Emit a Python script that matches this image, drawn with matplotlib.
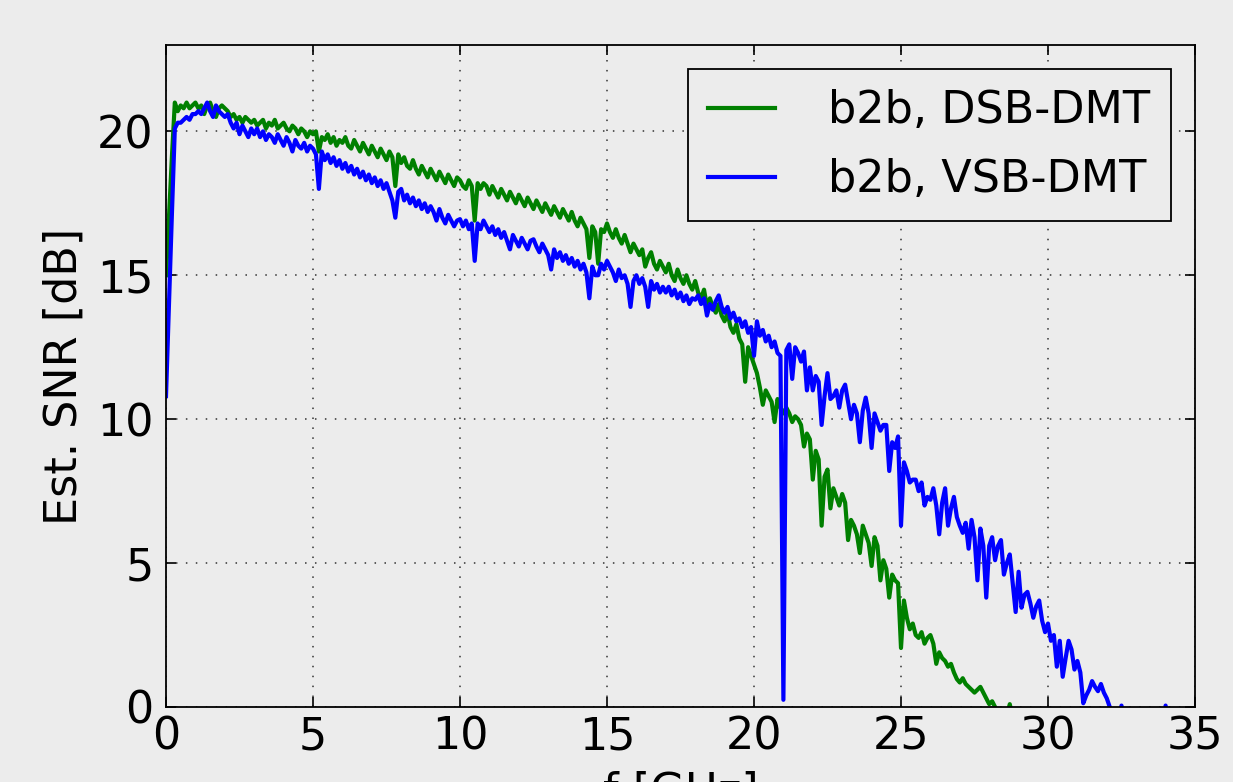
#!/usr/bin/env python3

import numpy as np
import matplotlib
matplotlib.use('Agg')
import matplotlib.pyplot as plt


# estimated SNR per subcarrier, 0.1 GHz apart (one row per GHz)
f_step = 0.1

snr_dsb = [
    15.0, 17.0, 19.1, 21.0, 20.7, 20.9, 20.8, 21.0, 20.8, 20.9,   # 0
    21.0, 20.8, 20.9, 20.6, 20.9, 21.0, 20.7, 20.5, 20.8, 20.9,   # 1
    20.8, 20.7, 20.5, 20.6, 20.4, 20.5, 20.3, 20.5, 20.4, 20.3,   # 2
    20.4, 20.2, 20.3, 20.4, 20.1, 20.3, 20.2, 20.4, 20.1, 20.2,   # 3
    20.3, 20.1, 20.0, 20.2, 20.1, 19.9, 20.1, 20.0, 19.8, 20.0,   # 4
    19.9, 20.0, 19.3, 19.8, 19.7, 19.9, 19.6, 19.8, 19.5, 19.7,   # 5
    19.6, 19.8, 19.5, 19.4, 19.7, 19.5, 19.3, 19.6, 19.4, 19.2,   # 6
    19.5, 19.3, 19.1, 19.4, 19.2, 19.0, 19.3, 19.1, 18.1, 19.2,   # 7
    18.9, 19.1, 18.8, 18.7, 19.0, 18.7, 18.5, 18.8, 18.6, 18.4,   # 8
    18.7, 18.5, 18.3, 18.6, 18.4, 18.2, 18.5, 18.3, 18.1, 18.4,   # 9
    18.3, 18.1, 18.0, 18.3, 18.1, 16.9, 18.2, 18.0, 18.2, 18.1,   # 10
    17.8, 18.1, 17.9, 17.7, 18.0, 17.8, 17.6, 17.9, 17.7, 17.5,   # 11
    17.8, 17.6, 17.4, 17.7, 17.5, 17.3, 17.6, 17.4, 17.2, 17.5,   # 12
    17.3, 17.1, 17.4, 17.2, 17.0, 17.3, 17.1, 16.9, 17.2, 16.9,   # 13
    16.7, 17.0, 16.8, 16.6, 15.6, 16.7, 16.5, 15.4, 16.6, 16.5,   # 14
    16.8, 16.5, 16.3, 16.6, 16.3, 16.1, 16.4, 16.1, 15.8, 16.1,   # 15
    15.9, 15.7, 15.9, 15.3, 15.6, 15.8, 15.4, 15.2, 15.5, 15.3,   # 16
    15.1, 15.4, 15.0, 14.8, 15.2, 14.9, 14.7, 15.0, 14.7, 14.5,   # 17
    14.8, 14.4, 14.2, 14.5, 13.9, 14.2, 13.9, 13.7, 14.0, 13.6,   # 18
    13.4, 13.7, 13.2, 13.0, 13.3, 12.8, 12.6, 11.3, 12.5, 12.2,   # 19
    11.9, 11.6, 11.1, 10.5, 11.0, 10.8, 10.6, 9.9, 10.7, 10.4,    # 20
    10.2, 10.4, 10.2, 9.9, 10.1, 10.0, 9.8, 9.05, 9.5, 9.3,       # 21
    7.9, 8.9, 8.6, 6.3, 8.0, 8.25, 6.9, 7.6, 7.3, 7.0,            # 22
    7.4, 7.1, 5.8, 6.5, 6.3, 6.0, 5.35, 6.3, 6.0, 5.7,            # 23
    4.9, 5.9, 5.6, 4.4, 5.1, 4.8, 3.8, 4.6, 4.4, 4.3,             # 24
    2.05, 3.7, 3.1, 2.7, 2.9, 2.5, 2.4, 2.6, 2.2, 2.4,            # 25
    2.5, 2.2, 1.5, 1.9, 1.7, 1.6, 1.4, 1.5, 1.2, 0.97,            # 26
    0.85, 1.0, 0.8, 0.7, 0.6, 0.5, 0.6, 0.7, 0.5, 0.3,            # 27
    0.1, 0.2, 0.0, -0.3, -0.5, -0.6, -0.3, 0.1, -0.4, -0.8,       # 28
]

snr_vsb = [
    10.8, 14.0, 17.1, 20.1, 20.3, 20.3, 20.4, 20.5, 20.4, 20.6,   # 0
    20.6, 20.7, 20.6, 20.8, 21.0, 20.7, 20.5, 20.9, 20.7, 20.6,   # 1
    20.5, 20.6, 20.3, 20.1, 20.3, 19.9, 20.2, 20.0, 19.8, 20.1,   # 2
    19.9, 20.1, 19.8, 20.0, 19.7, 19.9, 19.8, 19.6, 19.9, 19.7,   # 3
    19.5, 19.8, 19.6, 19.3, 19.7, 19.5, 19.4, 19.6, 19.3, 19.5,   # 4
    19.4, 19.2, 18.0, 19.3, 19.0, 19.2, 18.9, 19.1, 18.8, 19.0,   # 5
    18.7, 18.9, 18.6, 18.8, 18.5, 18.7, 18.4, 18.6, 18.3, 18.5,   # 6
    18.2, 18.4, 18.1, 18.3, 18.0, 18.2, 17.9, 17.6, 17.0, 17.9,   # 7
    18.0, 17.6, 17.8, 17.5, 17.7, 17.4, 17.6, 17.3, 17.5, 17.2,   # 8
    17.4, 17.2, 16.9, 17.3, 17.0, 16.8, 17.1, 16.9, 16.7, 16.9,   # 9
    16.95, 16.7, 16.9, 16.6, 16.8, 15.5, 16.8, 16.6, 16.9, 16.7,  # 10
    16.5, 16.7, 16.4, 16.6, 16.3, 16.5, 16.2, 15.9, 16.4, 16.2,   # 11
    16.0, 16.3, 16.1, 15.9, 16.2, 16.25, 16.0, 15.8, 16.1, 15.9,  # 12
    15.7, 15.2, 15.9, 15.6, 15.8, 15.5, 15.7, 15.4, 15.6, 15.3,   # 13
    15.5, 15.2, 15.4, 15.1, 14.2, 15.3, 15.0, 15.0, 15.4, 15.2,   # 14
    15.5, 15.3, 15.1, 14.8, 15.2, 14.9, 15.0, 14.7, 13.9, 14.8,   # 15
    15.0, 14.7, 14.9, 14.6, 13.9, 14.8, 14.5, 14.7, 14.4, 14.6,   # 16
    14.4, 14.6, 14.3, 14.5, 14.2, 14.4, 14.1, 14.3, 14.0, 14.2,   # 17
    14.15, 14.3, 14.0, 14.2, 13.6, 14.0, 13.8, 14.1, 14.3, 13.9,  # 18
    13.7, 13.9, 13.5, 13.7, 13.4, 13.5, 13.2, 13.4, 13.0, 13.2,   # 19
    12.2, 13.4, 12.9, 13.1, 12.7, 12.9, 12.5, 12.7, 12.3, 12.2,   # 20
    0.25, 12.4, 12.6, 11.4, 12.5, 12.3, 12.0, 12.35, 11.0, 11.8,  # 21
    11.0, 11.5, 11.3, 9.8, 10.8, 11.6, 10.7, 10.8, 11.0, 10.4,    # 22
    11.0, 11.2, 10.6, 10.0, 10.5, 10.2, 9.2, 10.3, 10.75, 10.2,   # 23
    9.0, 10.2, 9.9, 9.6, 9.8, 9.8, 8.2, 9.2, 9.0, 9.4,            # 24
    6.3, 8.5, 8.2, 7.8, 7.9, 7.9, 7.5, 7.8, 7.0, 7.3,             # 25
    7.2, 7.6, 7.0, 6.0, 7.1, 7.6, 6.3, 6.9, 7.3, 6.6,             # 26
    6.3, 6.05, 6.4, 5.5, 6.5, 5.9, 4.4, 6.2, 5.6, 3.8,            # 27
    5.6, 5.9, 5.1, 5.6, 5.8, 4.6, 5.0, 5.3, 4.3, 3.3,             # 28
    4.7, 3.45, 3.9, 4.0, 3.6, 3.1, 3.5, 3.7, 3.0, 2.6,            # 29
    2.9, 2.3, 2.5, 1.4, 2.3, 1.05, 1.7, 2.3, 2.0, 1.3,            # 30
    1.6, 1.2, 0.13, 0.4, 0.6, 0.9, 0.7, 0.55, 0.8, 0.5,           # 31
    0.3, 0.0, -0.4, -0.2, -0.5, 0.05, -0.6, -0.9, -1.2, -1.0,     # 32
    -1.3, -1.1, -1.5, -1.2, -1.4, -1.6, -1.3, -1.5, -1.2, -1.0,   # 33
    0.05, -0.8, -1.4,                                             # 34
]

labels = ['b2b, DSB-DMT', 'b2b, VSB-DMT']
x_ticks = [0, 5, 10, 15, 20, 25, 30, 35]
y_ticks = [0, 5, 10, 15, 20]


def main():
    bg = '#ececec'
    plt.rcParams['font.family'] = ['DejaVu Sans']
    plt.rcParams['font.size'] = 32
    plt.rcParams['xtick.direction'] = 'in'
    plt.rcParams['ytick.direction'] = 'in'

    fig = plt.figure(figsize=(12.33, 7.82), dpi=100, facecolor=bg)
    ax = fig.add_axes([166 / 1233, 1 - 707 / 782, 1029 / 1233, 662 / 782])
    ax.set_facecolor(bg)

    f_dsb = np.arange(len(snr_dsb)) * f_step
    f_vsb = np.arange(len(snr_vsb)) * f_step
    ax.plot(f_dsb, snr_dsb, color='g', lw=3.0, label=labels[0])
    ax.plot(f_vsb, snr_vsb, color='b', lw=3.0, label=labels[1])

    ax.set_xlim(0, 35)
    ax.set_ylim(0, 23)
    ax.set_xticks(x_ticks)
    ax.set_yticks(y_ticks)
    ax.tick_params(axis='both', which='major', length=7, width=1.2,
                   top=True, right=True, labelsize=32)
    ax.tick_params(axis='x', pad=6)
    ax.tick_params(axis='y', pad=9)
    for s in ax.spines.values():
        s.set_linewidth(1.3)

    ax.grid(True, color='#333333', lw=1.1, linestyle=(0, (1, 5.5)))
    ax.set_axisbelow(True)

    ax.set_xlabel('f [GHz]', labelpad=9)
    ax.set_ylabel('Est. SNR [dB]', labelpad=8)

    leg = ax.legend(loc='upper right', fontsize=32, fancybox=False,
                    edgecolor='k', facecolor=bg, framealpha=1,
                    handlelength=1.5, handletextpad=1.2, borderpad=0.45,
                    labelspacing=0.58, borderaxespad=0.55)
    leg.get_frame().set_linewidth(1.3)

    fig.savefig('out.png', dpi=100, facecolor=bg)


if __name__ == "__main__":
    main()
